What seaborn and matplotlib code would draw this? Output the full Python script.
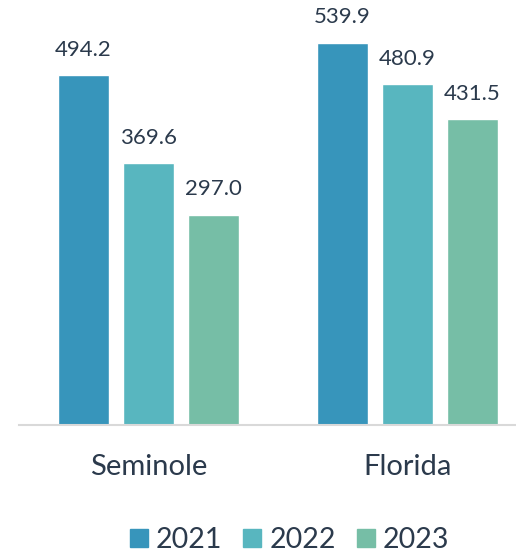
import pandas as pd
import matplotlib.pyplot as plt
import seaborn as sns

regions = ["Seminole", "Florida"]
years = ["2021", "2022", "2023"]
values_2021 = [494.2, 539.9]
values_2022 = [369.6, 480.9]
values_2023 = [297.0, 431.5]

df = pd.DataFrame({
    "region": regions * 3,
    "year": [y for y in years for _ in regions],
    "value": values_2021 + values_2022 + values_2023,
})

colors = ["#3795BB", "#58B6BF", "#76BEA6"]
text_color = "#2B3A4C"

sns.set_theme(style="white")
plt.rcParams["font.family"] = ["Lato", "DejaVu Sans"]

fig = plt.figure(figsize=(5.16, 5.54), dpi=100)
ax = fig.add_axes([19 / 516, 129 / 554, 497 / 516, 425 / 554])

sns.barplot(data=df, x="region", y="value", hue="year", palette=colors,
            width=0.753, gap=0.215, ax=ax, legend=False, saturation=1)

for container in ax.containers:
    ax.bar_label(container, fmt="%.1f", padding=11, fontsize=16, color=text_color)

ax.set_xlim(-0.5, 1.42)
ax.set_ylim(0, 600)
ax.set_xlabel("")
ax.set_ylabel("")
ax.set_yticks([])
ax.tick_params(axis="x", length=0, labelsize=21, labelcolor=text_color, pad=21)
for side in ["top", "right", "left"]:
    ax.spines[side].set_visible(False)
ax.spines["bottom"].set_color("#D9D9D9")
ax.spines["bottom"].set_linewidth(1.5)

handles = [plt.Line2D([], [], marker="s", linestyle="", markersize=13,
                      markerfacecolor=c, markeredgecolor=c) for c in colors]
fig.legend(handles, years, loc="center", bbox_to_anchor=(289 / 516, 1 - 540 / 554),
           ncol=3, frameon=False, fontsize=20.5, labelcolor=text_color,
           handletextpad=0.25, columnspacing=0.7, handlelength=0.7)

plt.savefig("out.png", dpi=100)
